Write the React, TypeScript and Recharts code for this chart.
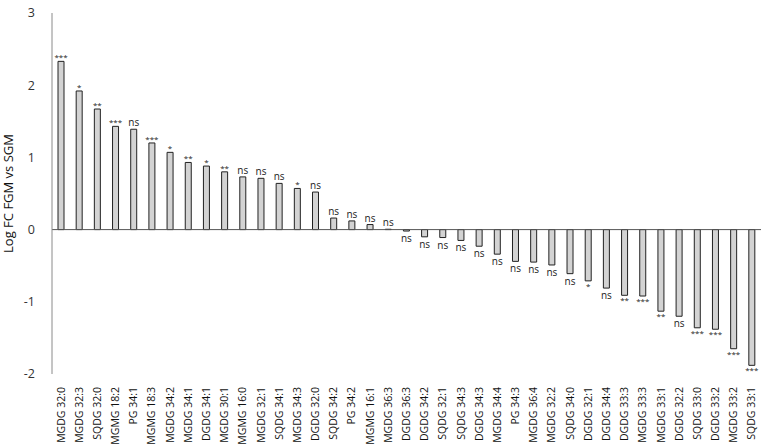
import { BarChart, Bar, XAxis, YAxis, ReferenceLine, LabelList, Label } from "recharts";

const lipids = [
  "MGDG 32:0", "MGDG 32:3", "SQDG 32:0", "MGMG 18:2", "PG 34:1", "MGMG 18:3",
  "MGDG 34:2", "MGDG 34:1", "DGDG 34:1", "MGDG 30:1", "MGMG 16:0", "MGDG 32:1",
  "SQDG 34:1", "MGDG 34:3", "DGDG 32:0", "SQDG 34:2", "PG 34:2", "MGMG 16:1",
  "MGDG 36:3", "DGDG 36:3", "DGDG 34:2", "SQDG 32:1", "SQDG 34:3", "DGDG 34:3",
  "MGDG 34:4", "PG 34:3", "MGDG 36:4", "MGDG 32:2", "SQDG 34:0", "DGDG 32:1",
  "DGDG 34:4", "DGDG 33:3", "MGDG 33:3", "MGDG 33:1", "DGDG 32:2", "SQDG 33:0",
  "DGDG 33:2", "MGDG 33:2", "SQDG 33:1",
];

const logFc = [
  2.33, 1.92, 1.67, 1.43, 1.39, 1.2, 1.07, 0.93, 0.88, 0.8, 0.73, 0.71,
  0.64, 0.57, 0.52, 0.16, 0.12, 0.07, 0.005, -0.02, -0.1, -0.11, -0.15, -0.23,
  -0.34, -0.44, -0.45, -0.49, -0.61, -0.71, -0.81, -0.91, -0.92, -1.13, -1.2, -1.36,
  -1.38, -1.65, -1.88,
];

const significance = [
  "***", "*", "**", "***", "ns", "***", "*", "**", "*", "**", "ns", "ns",
  "ns", "*", "ns", "ns", "ns", "ns", "ns", "ns", "ns", "ns", "ns", "ns",
  "ns", "ns", "ns", "ns", "ns", "*", "ns", "**", "***", "**", "ns", "***",
  "***", "***", "***",
];

const yTicks = [-2, -1, 0, 1, 2, 3];

const data = lipids.map((name, i) => ({ name, value: logFc[i], sig: significance[i] }));

const font = "'Open Sans', sans-serif";

function LipidTick({ x, y, payload }: any) {
  return (
    <text
      transform={`translate(${x + 3.5},${y + 5}) rotate(-90)`}
      textAnchor="end"
      fontSize={10.5}
      fontFamily={font}
      fill="#111"
    >
      {payload.value}
    </text>
  );
}

function SigLabel(props: any) {
  const { x, y, width, height, value, index } = props;
  const v = logFc[index];
  const top = Math.min(y, y + height);
  const bottom = Math.max(y, y + height);
  const cx = x + width / 2;
  const stars = value !== "ns";
  return (
    <text
      x={cx}
      y={v >= 0 ? top - (stars ? 1 : 3) : bottom + (stars ? 8 : 11)}
      textAnchor="middle"
      fontSize={stars ? 8 : 10}
      fontFamily={font}
      fill="#222"
    >
      {value}
    </text>
  );
}

export default function App() {
  return (
    <div style={{ position: "absolute", left: 0, top: 0, background: "#fff" }}>
      <BarChart
        width={765}
        height={445}
        data={data}
        margin={{ top: 13, right: 4, bottom: 0, left: 0 }}
        barCategoryGap={0}
      >
        <XAxis
          dataKey="name"
          interval={0}
          axisLine={false}
          tickLine={false}
          height={71}
          tick={<LipidTick />}
        />
        <YAxis
          domain={[-2, 3]}
          ticks={yTicks}
          width={52}
          tickLine={false}
          tickSize={0}
          tickMargin={17}
          axisLine={{ stroke: "#8a8a8a", strokeWidth: 1 }}
          tick={{ fontSize: 12.5, fill: "#333", fontFamily: font }}
        >
          <Label
            value="Log FC FGM vs SGM"
            angle={-90}
            position="insideLeft"
            offset={8}
            style={{ fontSize: 13, fill: "#111", fontFamily: font, textAnchor: "middle" }}
          />
        </YAxis>
        <ReferenceLine y={0} stroke="#555" strokeWidth={1} />
        <Bar
          dataKey="value"
          barSize={6}
          fill="#d3d3d3"
          stroke="#222"
          strokeWidth={1}
          isAnimationActive={false}
        >
          <LabelList dataKey="sig" content={<SigLabel />} />
        </Bar>
      </BarChart>
    </div>
  );
}
